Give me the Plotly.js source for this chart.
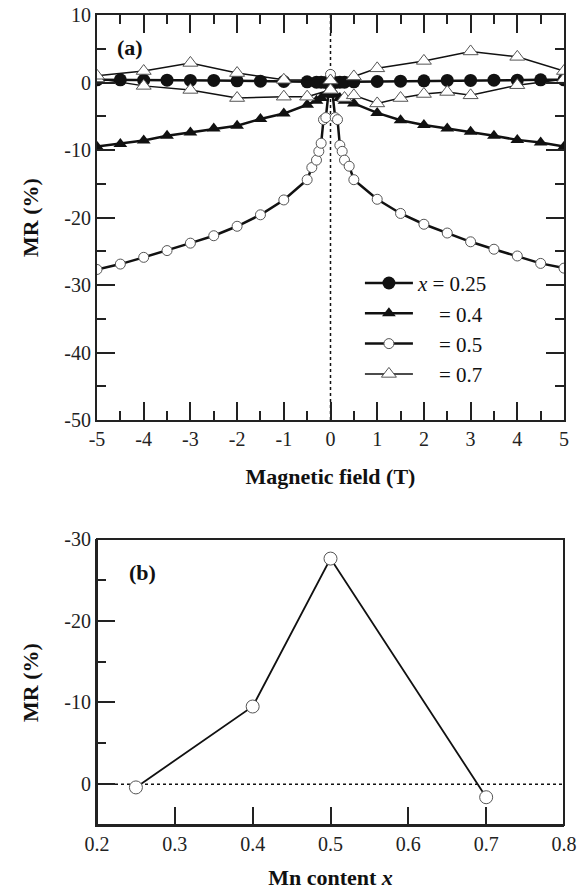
<!DOCTYPE html>
<html>
<head>
<meta charset="utf-8">
<script src="https://cdn.plot.ly/plotly-3.0.1.min.js"></script>
<style>
html,body{margin:0;padding:0;background:#fff;}
#chart{width:583px;height:895px;}
</style>
</head>
<body>
<div id="chart"></div>
<script>
// ---------- Panel (a): MR (%) vs magnetic field (T) ----------
var h025 = [-5,-4.5,-4,-3.5,-3,-2.5,-2,-1.5,-1,-0.5,-0.3,-0.2,-0.1,0,0.1,0.2,0.3,0.5,1,1.5,2,2.5,3,3.5,4,4.5,5];
var mr025 = [0.4,0.4,0.35,0.35,0.3,0.3,0.25,0.2,0.15,0.1,0.05,0.05,0,0,0,0.05,0.05,0.1,0.15,0.2,0.25,0.3,0.3,0.35,0.35,0.4,0.4];

var h04 = [-5,-4.5,-4,-3.5,-3,-2.5,-2,-1.5,-1,-0.5,-0.3,-0.2,-0.1,0,0.1,0.2,0.3,0.5,1,1.5,2,2.5,3,3.5,4,4.5,5];
var mr04 = [-9.5,-9.1,-8.6,-7.9,-7.4,-6.8,-6.4,-5.4,-4.6,-3.3,-2.7,-2.3,-1.8,-1.0,-1.8,-2.3,-2.7,-3.1,-4.5,-5.6,-6.3,-6.8,-7.3,-7.9,-8.5,-8.9,-9.5];

var h05 = [-5,-4.5,-4,-3.5,-3,-2.5,-2,-1.5,-1,-0.5,-0.4,-0.3,-0.25,-0.2,-0.15,-0.1,0,0.1,0.15,0.2,0.25,0.3,0.4,0.5,1,1.5,2,2.5,3,3.5,4,4.5,5];
var mr05 = [-27.7,-26.9,-25.9,-24.9,-23.8,-22.7,-21.3,-19.6,-17.4,-14.4,-12.6,-11.5,-10.2,-9.0,-5.5,-5.2,1.2,-5.2,-5.5,-9.3,-10.2,-11.5,-12.4,-14.4,-17.3,-19.4,-21.0,-22.3,-23.6,-24.7,-25.7,-26.8,-27.5];

var h07 = [-5,-4,-3,-2,-1,-0.5,0,0.3,0.5,1,1.5,2,2.5,3,4,5,5,4,3,2,1,0.5,0,-1,-2,-3,-4,-5];
var mr07 = [0.6,-0.5,-1.1,-2.3,-2.1,-2.1,-1.1,-2.3,-1.9,-3.1,-2.3,-1.7,-1.4,-1.9,-0.4,0.5,1.7,3.8,4.6,3.2,2.1,0.9,0.3,0.4,1.4,2.9,1.7,1.0];

var seriesNames = ['<i>x</i> = 0.25', '\u00a0\u00a0\u00a0\u00a0= 0.4', '\u00a0\u00a0\u00a0\u00a0= 0.5', '\u00a0\u00a0\u00a0\u00a0= 0.7'];

// ---------- Panel (b): MR (%) at 5 T vs Mn content x ----------
var mnContent = [0.25, 0.4, 0.5, 0.7];
var mr5T = [0.4, -9.5, -27.6, 1.6];

// ---------- Tick labels ----------
var xTicksA = [-5,-4,-3,-2,-1,0,1,2,3,4,5];
var xTickTextA = ['-5','-4','-3','-2','-1','0','1','2','3','4','5'];
var yTicksA = [-50,-40,-30,-20,-10,0,10];
var yTickTextA = ['-50','-40','-30','-20','-10','0','10'];
var yTicksB = [-30,-20,-10,0];
var yTickTextB = ['-30','-20','-10','0'];

var FONT = 'Liberation Serif, serif';
var INK = '#111';

var traces = [
  {x: h025, y: mr025, name: seriesNames[0], mode: 'lines+markers', xaxis: 'x', yaxis: 'y',
   line: {color: INK, width: 2.5},
   marker: {symbol: 'circle', size: 13, color: INK}},
  {x: h04, y: mr04, name: seriesNames[1], mode: 'lines+markers', xaxis: 'x', yaxis: 'y',
   line: {color: INK, width: 2.5},
   marker: {symbol: 'triangle-up', size: 12, color: INK}},
  {x: h05, y: mr05, name: seriesNames[2], mode: 'lines+markers', xaxis: 'x', yaxis: 'y',
   line: {color: INK, width: 2.5},
   marker: {symbol: 'circle', size: 10, color: '#fff', line: {color: '#555', width: 1}}},
  {x: h07, y: mr07, name: seriesNames[3], mode: 'lines+markers', xaxis: 'x', yaxis: 'y',
   line: {color: INK, width: 1.5},
   marker: {symbol: 'triangle-up', size: 13, color: '#fff', line: {color: '#555', width: 1}}},
  {x: mnContent, y: mr5T, mode: 'lines+markers', xaxis: 'x2', yaxis: 'y2', showlegend: false,
   line: {color: INK, width: 1.8},
   marker: {symbol: 'circle', size: 13, color: '#fff', line: {color: '#555', width: 1}}}
];

function axisBase() {
  return {showline: true, linecolor: '#222', linewidth: 2,
    ticks: 'inside', ticklen: 18, tickwidth: 2, tickcolor: '#222',
    showgrid: false, zeroline: false,
    tickfont: {family: FONT, size: 20, color: '#222'}};
}
var titleFont = {family: FONT, size: 22, color: '#111'};

var xa = Object.assign(axisBase(), {domain: [0, 1], anchor: 'y', range: [-5, 5],
  tickmode: 'array', tickvals: xTicksA, ticktext: xTickTextA, mirror: 'allticks',
  minor: {tickmode: 'linear', tick0: -5, dtick: 0.5, ticks: 'inside', ticklen: 9, tickwidth: 2, tickcolor: '#222'},
  title: {text: '<b>Magnetic field (T)</b>', font: titleFont, standoff: 20}});
var ya = Object.assign(axisBase(), {domain: [0.5, 1], anchor: 'x', range: [-50, 10],
  tickmode: 'array', tickvals: yTicksA, ticktext: yTickTextA, mirror: 'allticks',
  minor: {tickmode: 'linear', tick0: -50, dtick: 5, ticks: 'inside', ticklen: 9, tickwidth: 2, tickcolor: '#222'},
  title: {text: '<b>MR (%)</b>', font: titleFont, standoff: 20}});
var xb = Object.assign(axisBase(), {domain: [0, 1], anchor: 'y2', range: [0.2, 0.8],
  tickmode: 'linear', tick0: 0.2, dtick: 0.1, tickformat: '.1f',
  title: {text: '<b>Mn content <i>x</i></b>', font: titleFont, standoff: 16}});
var yb = Object.assign(axisBase(), {domain: [0, 0.3531], anchor: 'x2', range: [5, -30],
  tickmode: 'array', tickvals: yTicksB, ticktext: yTickTextB,
  minor: {tickmode: 'linear', tick0: -30, dtick: 5, ticks: 'inside', ticklen: 9, tickwidth: 2, tickcolor: '#222'}});

var layout = {
  width: 583, height: 895,
  margin: {l: 97, r: 19, t: 15, b: 70},
  paper_bgcolor: '#fff', plot_bgcolor: '#fff',
  font: {family: FONT, color: '#111'},
  xaxis: xa, yaxis: ya, xaxis2: xb, yaxis2: yb,
  showlegend: true,
  legend: {x: 0.563, y: 0.694, xanchor: 'left', yanchor: 'top', bgcolor: 'rgba(0,0,0,0)',
           font: {family: FONT, size: 21, color: '#111'}, itemwidth: 48},
  shapes: [
    {type: 'line', xref: 'x', yref: 'y domain', x0: 0, x1: 0, y0: 0, y1: 1, layer: 'below',
     line: {color: '#111', width: 1.5, dash: 'dot'}},
    {type: 'line', xref: 'x2 domain', yref: 'y2', x0: 0, x1: 1, y0: 0, y1: 0, layer: 'below',
     line: {color: '#111', width: 1.5, dash: 'dot'}},
    {type: 'rect', xref: 'x2 domain', yref: 'y2 domain', x0: 0, x1: 1, y0: 0, y1: 1, layer: 'above',
     line: {color: '#222', width: 2}, fillcolor: 'rgba(0,0,0,0)'}
  ],
  annotations: [
    {text: '<b>(a)</b>', xref: 'paper', yref: 'paper', x: 0.0707, y: 0.9593, xanchor: 'center', yanchor: 'middle',
     showarrow: false, font: {family: FONT, size: 22, color: '#111'}},
    {text: '<b>(b)</b>', xref: 'paper', yref: 'paper', x: 0.098, y: 0.3123, xanchor: 'center', yanchor: 'middle',
     showarrow: false, font: {family: FONT, size: 22, color: '#111'}},
    {text: '<b>MR (%)</b>', xref: 'paper', yref: 'paper', x: -0.1435, y: 0.1765, xanchor: 'center', yanchor: 'middle',
     textangle: -90, showarrow: false, font: titleFont}
  ]
};

var gd = document.getElementById('chart');
function redrawTicks() {
  return Plotly.relayout(gd, {'xaxis.ticklen': 18, 'yaxis.ticklen': 18, 'xaxis2.ticklen': 18, 'yaxis2.ticklen': 18});
}
Plotly.newPlot(gd, traces, layout, {staticPlot: true, displayModeBar: false})
  .then(redrawTicks)
  .catch(function () { try { redrawTicks(); } catch (e) {} });
</script>
</body>
</html>
